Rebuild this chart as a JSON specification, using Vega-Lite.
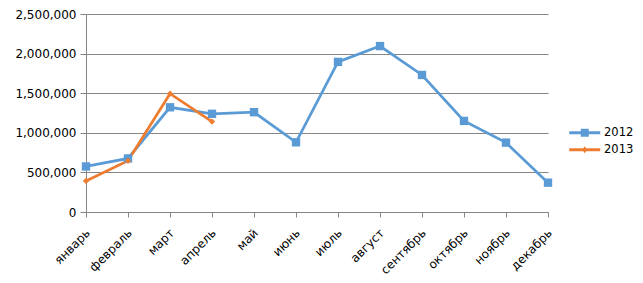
{
  "$schema": "https://vega.github.io/schema/vega-lite/v6.json",
  "width": 462,
  "height": 198,
  "autosize": {"type": "none"},
  "padding": {"left": 86, "top": 14, "right": 95, "bottom": 71},
  "background": "white",
  "config": {"view": {"stroke": null}, "font": "DejaVu Sans"},
  "data": {"values": [
    {"month": "январь", "year": "2012", "value": 575000},
    {"month": "февраль", "year": "2012", "value": 676000},
    {"month": "март", "year": "2012", "value": 1322000},
    {"month": "апрель", "year": "2012", "value": 1240000},
    {"month": "май", "year": "2012", "value": 1260000},
    {"month": "июнь", "year": "2012", "value": 880000},
    {"month": "июль", "year": "2012", "value": 1895000},
    {"month": "август", "year": "2012", "value": 2095000},
    {"month": "сентябрь", "year": "2012", "value": 1730000},
    {"month": "октябрь", "year": "2012", "value": 1150000},
    {"month": "ноябрь", "year": "2012", "value": 876000},
    {"month": "декабрь", "year": "2012", "value": 370000},
    {"month": "январь", "year": "2013", "value": 392000},
    {"month": "февраль", "year": "2013", "value": 647000},
    {"month": "март", "year": "2013", "value": 1494000},
    {"month": "апрель", "year": "2013", "value": 1142000}
  ]},
  "encoding": {
    "x": {
      "field": "month", "type": "ordinal",
      "sort": ["январь", "февраль", "март", "апрель", "май", "июнь", "июль", "август", "сентябрь", "октябрь", "ноябрь", "декабрь"],
      "scale": {"type": "point", "padding": 0},
      "axis": {
        "title": null, "labelAngle": -45, "labelAlign": "right", "labelBaseline": "top",
        "labelFontSize": 12, "labelColor": "#000000", "labelPadding": 10, "labelOffset": -2, "labelOverlap": false,
        "tickColor": "#868686", "tickSize": 5, "domainColor": "#868686", "grid": false
      }
    },
    "y": {
      "field": "value", "type": "quantitative",
      "scale": {"domain": [0, 2500000], "nice": false},
      "axis": {
        "title": null, "values": [0, 500000, 1000000, 1500000, 2000000, 2500000], "format": ",d",
        "labelFontSize": 12, "labelColor": "#000000", "labelPadding": 4,
        "tickColor": "#868686", "tickSize": 6, "domainColor": "#868686",
        "grid": true, "gridColor": "#868686", "gridWidth": 1
      }
    },
    "color": {
      "field": "year", "type": "nominal",
      "scale": {"domain": ["2012", "2013"], "range": ["#5B9BD5", "#ED7D31"]},
      "legend": {
        "title": null, "orient": "none", "legendX": 493, "legendY": 113,
        "labelFontSize": 11.5, "labelColor": "#000000", "labelOffset": 13.5,
        "rowPadding": 4, "padding": 0, "symbolSize": 100, "symbolType": "square",
        "encode": {
          "symbols": {"update": {
            "shape": {"signal": "datum.value === '2012' ? 'M-3.1,-0.28H3.1V0.28H-3.1Z M-0.8,-0.8H0.8V0.8H-0.8Z' : 'M-3.1,-0.28H3.1V0.28H-3.1Z M0,-0.7L0.5,0L0,0.7L-0.5,0Z'"},
            "size": {"value": 100},
            "fill": {"scale": "color", "field": "value"},
            "strokeWidth": {"value": 0},
            "opacity": {"value": 1}
          }}
        }
      }
    }
  },
  "layer": [
    {"mark": {"type": "line", "strokeWidth": 2.75}},
    {
      "mark": {"type": "point", "filled": true, "opacity": 1},
      "encoding": {
        "shape": {"condition": {"test": "datum.year === '2012'", "value": "square"}, "value": "diamond"},
        "size": {"condition": {"test": "datum.year === '2012'", "value": 70}, "value": 40}
      }
    }
  ]
}
